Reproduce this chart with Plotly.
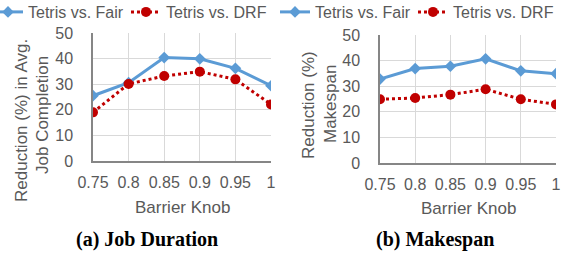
import plotly.graph_objects as go

knob = [0.75, 0.8, 0.85, 0.9, 0.95, 1]
tick_labels = ["0.75", "0.8", "0.85", "0.9", "0.95", "1"]
jobdur_fair = [25.5, 30.6, 40.4, 39.9, 36.2, 29.4]
jobdur_drf = [19.0, 30.1, 33.2, 34.9, 31.9, 22.1]
makespan_fair = [32.8, 36.9, 37.8, 40.7, 36.0, 34.9]
makespan_drf = [24.9, 25.4, 26.7, 28.8, 24.9, 22.9]
y_ticks = [0, 10, 20, 30, 40, 50]

W, H = 573, 255
def px(x):
    return x / W
def py(y):
    return 1 - y / H

FONT = "Liberation Sans, Arial, sans-serif"
GRAY = "#595959"
BLUE = "#5B9BD5"
RED = "#C00000"

fig = go.Figure()

def add_pair(fair, drf, xa, ya, lg_fair, lg_drf):
    fig.add_trace(go.Scatter(x=knob, y=fair, xaxis=xa, yaxis=ya, mode="lines+markers",
                             name="Tetris vs. Fair", legend=lg_fair,
                             line=dict(color=BLUE, width=3),
                             marker=dict(symbol="diamond", size=9, color=BLUE)))
    fig.add_trace(go.Scatter(x=knob, y=drf, xaxis=xa, yaxis=ya, mode="lines+markers",
                             name="Tetris vs. DRF", legend=lg_drf,
                             line=dict(color=RED, width=3, dash="dot"),
                             marker=dict(symbol="circle", size=10, color=RED)))

add_pair(jobdur_fair, jobdur_drf, "x", "y", "legend", "legend2")
add_pair(makespan_fair, makespan_drf, "x2", "y2", "legend3", "legend4")

xcommon = dict(range=[0.75, 1], tickvals=knob, ticktext=tick_labels, showgrid=True,
               gridcolor="#D9D9D9", gridwidth=1, zeroline=False, showline=True,
               linecolor="#868686", linewidth=1.5, ticks="", ticklabelstandoff=6,
               tickfont=dict(family=FONT, size=16, color=GRAY), mirror=False)
ycommon = dict(range=[0, 50], tickvals=y_ticks, showgrid=True, gridcolor="#D9D9D9",
               gridwidth=1, zeroline=False, showline=True, linecolor="#868686",
               linewidth=1.5, ticks="", ticklabelstandoff=15,
               tickfont=dict(family=FONT, size=16, color=GRAY))

legend_common = dict(orientation="h", yanchor="middle", xanchor="left",
                     font=dict(family=FONT, size=16, color=GRAY), itemwidth=30,
                     bgcolor="rgba(0,0,0,0)", tracegroupgap=0)
LEG_OFF = 40  # distance from legend origin to entry text

fig.update_layout(
    width=W, height=H, margin=dict(l=0, r=0, t=0, b=0, autoexpand=False),
    paper_bgcolor="white", plot_bgcolor="white",
    xaxis=dict(domain=[px(93), px(271)], anchor="y", **xcommon),
    yaxis=dict(domain=[py(161), py(33)], anchor="x", **ycommon),
    xaxis2=dict(domain=[px(380), px(556)], anchor="y2", **xcommon),
    yaxis2=dict(domain=[py(163), py(35)], anchor="x2", **ycommon),
    legend=dict(x=px(28 - LEG_OFF), y=py(12), **legend_common),
    legend2=dict(x=px(166 - LEG_OFF), y=py(12), **legend_common),
    legend3=dict(x=px(315 - LEG_OFF), y=py(12), **legend_common),
    legend4=dict(x=px(453 - LEG_OFF), y=py(12), **legend_common),
    showlegend=True,
)

ann = []
def text(x, y, t, size=17, angle=0, family=FONT, color=GRAY):
    ann.append(dict(x=px(x), y=py(y), xref="paper", yref="paper", text=t, showarrow=False,
                    textangle=angle, xanchor="center", yanchor="middle",
                    font=dict(family=family, size=size, color=color)))

text(21, 121, "Reduction (%) in Avg.", angle=-90)
text(43, 115, "Job Completion", angle=-90)
text(308, 105, "Reduction (%)", angle=-90)
text(330, 104, "Makespan", angle=-90)
text(182, 207, "Barrier Knob")
text(468, 208, "Barrier Knob")
text(147, 239, "<b>(a) Job Duration</b>", size=20, family="Liberation Serif, serif", color="black")
text(435, 239, "<b>(b) Makespan</b>", size=20, family="Liberation Serif, serif", color="black")
fig.update_layout(annotations=ann)

fig.write_html("out.html", config={"displayModeBar": False},
               post_script="document.body.style.margin='0';")
